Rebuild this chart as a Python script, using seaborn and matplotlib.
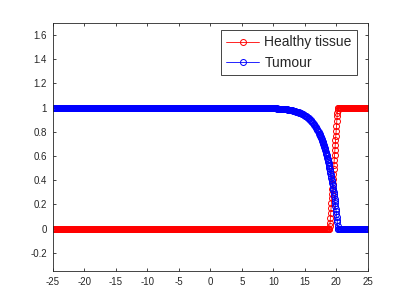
import numpy as np
import pandas as pd
import matplotlib
matplotlib.use("Agg")
import matplotlib.pyplot as plt
import seaborn as sns

# ---------------- data ----------------
# Healthy tissue: 0 on the left, steep rise near x = 19..20.25, 1 on the right
healthy_low_x = np.arange(-25.0, 18.95, 0.1)
healthy_rise_x = np.arange(18.95, 20.26, 0.05)
healthy_rise_y = [0.02, 0.05, 0.09, 0.13, 0.17, 0.21, 0.25, 0.29, 0.33, 0.37,
                  0.41, 0.45, 0.49, 0.53, 0.57, 0.61, 0.65, 0.69, 0.73, 0.77,
                  0.81, 0.85, 0.89, 0.93, 0.96, 0.98, 1.00]
healthy_high_x = np.arange(20.3, 25.001, 0.1)

# Tumour: 1 on the left, gradual then steep decay, 0 past x ~ 20.3
tumour_high_x = np.arange(-25.0, 9.95, 0.1)
tumour_slow_x = np.arange(10.0, 17.31, 0.1)
tumour_slow_y = [0.995, 0.995, 0.995, 0.994, 0.994, 0.994, 0.993, 0.993, 0.993, 0.992,
                 0.992, 0.991, 0.991, 0.990, 0.990, 0.989, 0.989, 0.988, 0.988, 0.987,
                 0.986, 0.986, 0.985, 0.984, 0.983, 0.982, 0.981, 0.980, 0.979, 0.978,
                 0.977, 0.976, 0.974, 0.973, 0.972, 0.970, 0.968, 0.967, 0.965, 0.963,
                 0.961, 0.959, 0.957, 0.955, 0.952, 0.950, 0.947, 0.944, 0.941, 0.938,
                 0.935, 0.931, 0.928, 0.924, 0.920, 0.915, 0.911, 0.906, 0.901, 0.896,
                 0.890, 0.884, 0.878, 0.871, 0.865, 0.857, 0.850, 0.842, 0.833, 0.824,
                 0.815, 0.805, 0.795, 0.784]
tumour_fast_x = np.arange(17.35, 20.26, 0.05)
tumour_fast_y = [0.779, 0.773, 0.767, 0.761, 0.754, 0.748, 0.741, 0.734, 0.727, 0.720,
                 0.713, 0.705, 0.698, 0.690, 0.681, 0.673, 0.664, 0.656, 0.647, 0.637,
                 0.628, 0.618, 0.608, 0.597, 0.587, 0.576, 0.565, 0.553, 0.542, 0.530,
                 0.517, 0.504, 0.491, 0.478, 0.464, 0.450, 0.436, 0.421, 0.405, 0.390,
                 0.374, 0.357, 0.340, 0.323, 0.305, 0.287, 0.268, 0.249, 0.229, 0.209,
                 0.188, 0.166, 0.144, 0.122, 0.099, 0.075, 0.051, 0.026, 0.000]
tumour_low_x = np.arange(20.3, 25.001, 0.1)

series_labels = ["Healthy tissue", "Tumour"]
series_colors = ["#ff0000", "#0000ff"]
x_ticks = [-25, -20, -15, -10, -5, 0, 5, 10, 15, 20, 25]
y_ticks = [-0.2, 0, 0.2, 0.4, 0.6, 0.8, 1.0, 1.2, 1.4, 1.6]
y_tick_labels = ["-0.2", "0", "0.2", "0.4", "0.6", "0.8", "1", "1.2", "1.4", "1.6"]

healthy_x = np.concatenate([healthy_low_x, healthy_rise_x[:len(healthy_rise_y)], healthy_high_x])
healthy_y = np.concatenate([np.zeros(len(healthy_low_x)), healthy_rise_y, np.ones(len(healthy_high_x))])
tumour_x = np.concatenate([tumour_high_x, tumour_slow_x[:len(tumour_slow_y)],
                           tumour_fast_x[:len(tumour_fast_y)], tumour_low_x])
tumour_y = np.concatenate([np.ones(len(tumour_high_x)), tumour_slow_y[:len(tumour_slow_x)],
                           tumour_fast_y, np.zeros(len(tumour_low_x))])

df_h = pd.DataFrame({"x": healthy_x, "y": healthy_y})
df_t = pd.DataFrame({"x": tumour_x, "y": tumour_y})

# ---------------- plot ----------------
sns.set_style("white")
plt.rcParams["font.family"] = ["Liberation Sans", "DejaVu Sans"]

fig = plt.figure(figsize=(4.07, 3.05), dpi=100)
ax = fig.add_axes([0.1295, 0.1115, 0.7745, 0.8131])

for df, lab, col in zip([df_h, df_t], series_labels, series_colors):
    sns.lineplot(data=df, x="x", y="y", ax=ax, label=lab, color=col,
                 estimator=None, sort=False, linewidth=0.6,
                 marker="o", markersize=4.3, markerfacecolor="none",
                 markeredgecolor=col, markeredgewidth=0.7)

ax.set_xlim(-25, 25)
ax.set_ylim(-0.35, 1.7)
ax.set_xticks(x_ticks)
ax.set_xticklabels([str(t) for t in x_ticks])
ax.set_yticks(y_ticks)
ax.set_yticklabels(y_tick_labels)
ax.set_xlabel("")
ax.set_ylabel("")

ax.tick_params(axis="both", which="both", direction="in", length=2.5, width=0.6,
               top=True, right=True, bottom=True, left=True,
               labelsize=7, colors="#262626", pad=4)
for sp in ax.spines.values():
    sp.set_visible(True)
    sp.set_color("#262626")
    sp.set_linewidth(0.6)

leg = ax.legend(loc="upper right", bbox_to_anchor=(0.966, 0.972), borderaxespad=0,
                fontsize=10, frameon=True, fancybox=False, framealpha=1,
                edgecolor="#262626", handlelength=2.4, handletextpad=0.35,
                borderpad=0.4, labelspacing=0.45)
leg.get_frame().set_linewidth(0.6)

fig.savefig("out.png", dpi=100)
